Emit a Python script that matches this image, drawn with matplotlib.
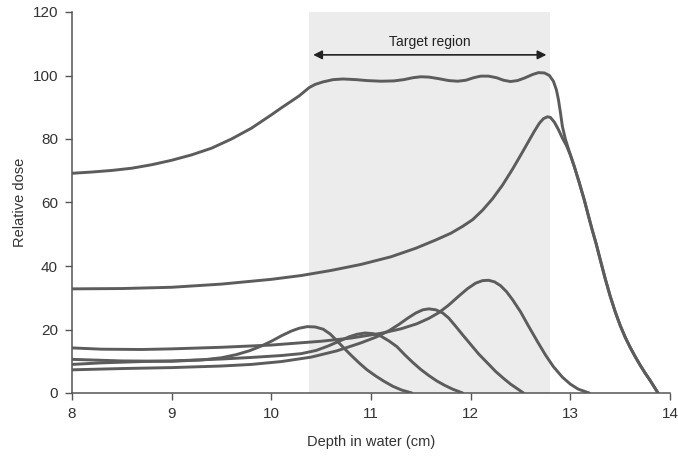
import matplotlib
matplotlib.use("Agg")
import matplotlib.pyplot as plt

# ---------------- data ----------------
xticks = [8, 9, 10, 11, 12, 13, 14]
yticks = [0, 20, 40, 60, 80, 100, 120]
target_start, target_end = 10.38, 12.80
target_label = "Target region"

# spread-out Bragg peak (sum)
sobp_x = [8.0, 8.2, 8.4, 8.6, 8.8, 9.0, 9.2, 9.4, 9.6, 9.8, 10.0, 10.1, 10.2, 10.28,
          10.33, 10.38, 10.44, 10.52, 10.62, 10.72, 10.85, 10.96, 11.1, 11.23, 11.33,
          11.42, 11.5, 11.58, 11.68, 11.78, 11.87, 11.95, 12.03, 12.1, 12.18, 12.26,
          12.33, 12.40, 12.47, 12.54, 12.62, 12.68, 12.74, 12.79, 12.83, 12.86, 12.88,
          12.90, 12.92, 12.95, 12.99, 13.04, 13.09, 13.14, 13.18, 13.22, 13.26, 13.30,
          13.35, 13.40, 13.45, 13.50, 13.55, 13.60, 13.65, 13.70, 13.75, 13.80, 13.84,
          13.88]
sobp_y = [69.2, 69.6, 70.1, 70.8, 71.9, 73.3, 75.0, 77.1, 80.0, 83.4, 87.6, 89.8, 91.9, 93.6,
          94.9, 96.2, 97.2, 98.0, 98.7, 98.9, 98.7, 98.4, 98.2, 98.3, 98.7,
          99.3, 99.6, 99.5, 99.0, 98.4, 98.2, 98.5, 99.3, 99.8, 99.8, 99.3,
          98.5, 98.1, 98.4, 99.2, 100.3, 100.9, 100.8, 100.0, 98.2, 95.5, 92.5,
          88.5, 84.0, 80.0, 76.0, 71.3, 66.2, 60.8, 56.0, 51.3, 46.9, 42.0,
          36.0, 30.5, 25.6, 21.3, 17.6, 14.4, 11.5, 8.8, 6.3, 4.0, 2.0,
          0.0]

# deepest pristine peak (joins the distal fall-off of the sum)
peak_e_x = [8.0, 8.5, 9.0, 9.5, 10.0, 10.3, 10.6, 10.9, 11.2, 11.45, 11.65, 11.8, 11.92,
            12.02, 12.12, 12.22, 12.32, 12.42, 12.5, 12.58, 12.64, 12.69, 12.73, 12.77,
            12.80, 12.84, 12.88, 12.92, 12.96, 13.0, 13.04, 13.09, 13.14, 13.18, 13.22,
            13.26, 13.30, 13.35, 13.40, 13.45, 13.50, 13.55, 13.60, 13.65, 13.70, 13.75,
            13.80, 13.84, 13.88]
peak_e_y = [32.8, 32.9, 33.3, 34.3, 35.8, 37.0, 38.6, 40.5, 42.9, 45.6, 48.2, 50.3, 52.5,
            54.6, 57.6, 61.2, 65.5, 70.5, 74.8, 79.2, 82.5, 85.0, 86.4, 87.0,
            86.8, 85.3, 83.0, 80.3, 78.0, 75.0, 71.3, 66.2, 60.8, 56.0, 51.3,
            46.9, 42.0, 36.0, 30.5, 25.6, 21.3, 17.6, 14.4, 11.5, 8.8, 6.3,
            4.0, 2.0, 0.0]

peak_d_x = [8.0, 8.3, 8.7, 9.0, 9.5, 10.0, 10.5, 10.8, 11.1, 11.3, 11.46, 11.58, 11.68,
            11.78, 11.88, 11.97, 12.05, 12.12, 12.18, 12.24, 12.30, 12.36, 12.42, 12.50,
            12.58, 12.67, 12.75, 12.83, 12.92, 13.0, 13.08, 13.19]
peak_d_y = [14.2, 13.8, 13.7, 13.9, 14.4, 15.1, 16.3, 17.3, 18.8, 20.2, 21.8, 23.5, 25.3,
            27.7, 30.5, 32.9, 34.6, 35.4, 35.5, 35.0, 33.8, 31.9, 29.4, 25.6,
            21.1, 16.2, 12.0, 8.3, 5.0, 2.8, 1.2, 0.0]

peak_c_x = [8.0, 8.5, 9.0, 9.5, 9.8, 10.1, 10.4, 10.66, 10.9, 11.05, 11.18, 11.28, 11.37,
            11.45, 11.52, 11.58, 11.65, 11.72, 11.78, 11.85, 11.92, 12.0, 12.08, 12.17,
            12.25, 12.33, 12.40, 12.47, 12.53]
peak_c_y = [7.3, 7.7, 8.0, 8.5, 9.0, 9.9, 11.3, 13.3, 15.8, 17.6, 19.6, 21.6, 23.6,
            25.2, 26.2, 26.5, 26.2, 25.2, 23.6, 21.0, 18.3, 15.3, 12.3, 9.4,
            6.8, 4.6, 2.8, 1.3, 0.0]

peak_b_x = [8.0, 8.3, 8.7, 9.0, 9.5, 9.8, 10.1, 10.3, 10.45, 10.57, 10.68, 10.78, 10.86,
            10.94, 11.02, 11.1, 11.18, 11.26, 11.34, 11.42, 11.50, 11.58, 11.66, 11.74,
            11.82, 11.92]
peak_b_y = [9.0, 9.5, 9.9, 10.1, 10.7, 11.2, 11.8, 12.4, 13.4, 14.8, 16.3, 17.7, 18.5,
            18.9, 18.7, 17.9, 16.4, 14.6, 12.0, 9.6, 7.4, 5.5, 3.8, 2.4,
            1.2, 0.0]

peak_a_x = [8.0, 8.5, 9.0, 9.3, 9.5, 9.65, 9.78, 9.9, 10.0, 10.1, 10.2, 10.28, 10.36,
            10.44, 10.52, 10.59, 10.66, 10.73, 10.8, 10.88, 10.96, 11.05, 11.13, 11.22,
            11.31, 11.41]
peak_a_y = [10.6, 10.1, 10.0, 10.4, 11.1, 12.1, 13.3, 14.8, 16.3, 18.0, 19.5, 20.4, 20.9,
            20.8, 20.1, 18.6, 16.4, 14.1, 11.9, 9.5, 7.3, 5.3, 3.7, 2.1,
            0.9, 0.0]

curves = [(sobp_x, sobp_y), (peak_e_x, peak_e_y), (peak_d_x, peak_d_y),
          (peak_c_x, peak_c_y), (peak_b_x, peak_b_y), (peak_a_x, peak_a_y)]

# ---------------- figure ----------------
plt.rcParams['font.family'] = ['Liberation Sans', 'DejaVu Sans']
fig = plt.figure(figsize=(6.78, 4.59), dpi=100)
ax = fig.add_axes([72 / 678, 1 - 393 / 459, (670 - 72) / 678, (393 - 12) / 459])

ax.axvspan(target_start, target_end, ymin=0, ymax=1, color='#ececec', lw=0, zorder=0)

line_color = '#5c5c5c'
for cx, cy in curves:
    ax.plot(cx, cy, color=line_color, lw=2.1, solid_joinstyle='round',
            solid_capstyle='round', zorder=3)

ax.annotate('', xy=(target_start + 0.04, 106.5), xytext=(target_end - 0.04, 106.5),
            arrowprops=dict(arrowstyle='<|-|>', color='#222222', lw=1.2,
                            mutation_scale=13, shrinkA=0, shrinkB=0), zorder=4)
ax.text((target_start + target_end) / 2, 108.2, target_label, ha='center', va='bottom',
        fontsize=10, color='#222222', zorder=4)

ax.set_xlim(8, 14)
ax.set_ylim(0, 120)
ax.set_xticks(xticks)
ax.set_yticks(yticks)
ax.set_xticklabels([str(t) for t in xticks])
ax.set_yticklabels([str(t) for t in yticks])

for s in ['top', 'right']:
    ax.spines[s].set_visible(False)
for s in ['left', 'bottom']:
    ax.spines[s].set_color('#555555')
    ax.spines[s].set_linewidth(1.1)
ax.tick_params(axis='both', direction='out', length=5, width=1.0, color='#555555',
               labelsize=11, labelcolor='#333333', pad=5)

ax.set_xlabel('Depth in water (cm)', fontsize=10.5, color='#333333', labelpad=10)
ax.set_ylabel('Relative dose', fontsize=10.5, color='#333333', labelpad=4)

fig.savefig('out.png', dpi=100)
